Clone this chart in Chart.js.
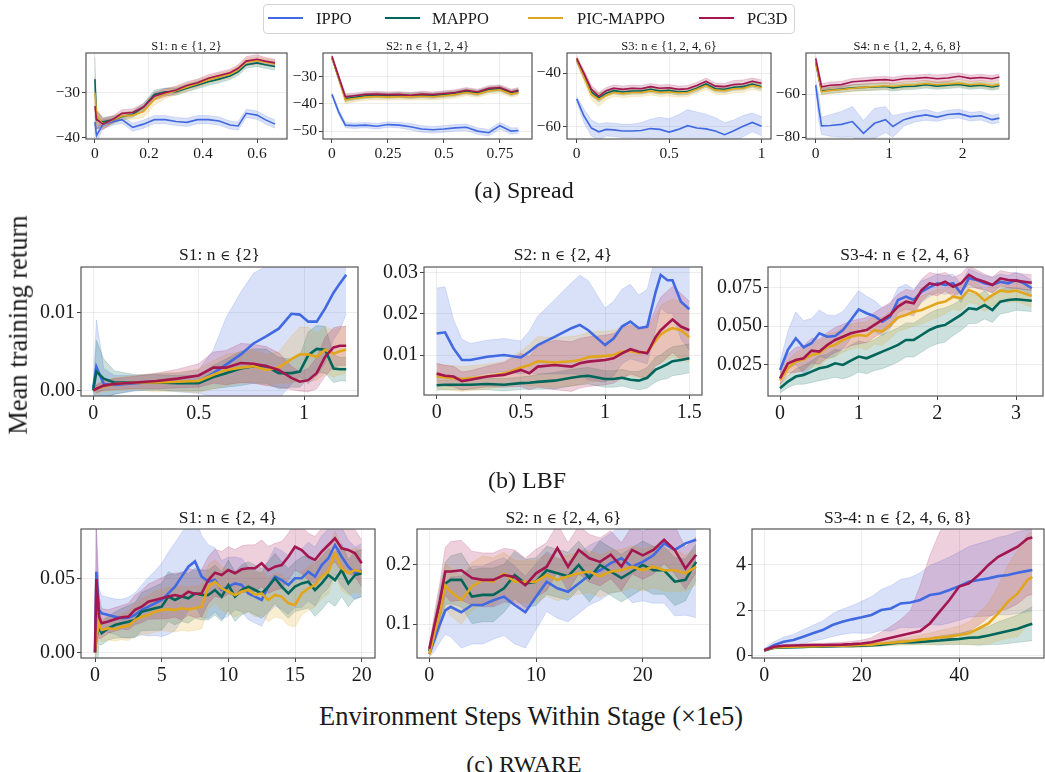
<!DOCTYPE html>
<html>
<head>
<meta charset="utf-8">
<script src="https://cdn.jsdelivr.net/npm/chart.js@4.4.1/dist/chart.umd.min.js"></script>
<style>
  html, body { margin: 0; padding: 0; background: #fff; }
  #fig { position: relative; width: 1045px; height: 772px; overflow: hidden;
         font-family: 'Liberation Serif', serif; color: #1a1a1a; }
  #fig canvas { position: absolute; }
  .txt { position: absolute; white-space: nowrap; line-height: 1; transform: translate(-50%, -50%); }
  .txt .el { font-family: 'DejaVu Serif', serif; font-size: 0.78em; }
  .legend { position: absolute; left: 263px; top: 4px; width: 532px; height: 30px;
            border: 1px solid #d4d4d4; border-radius: 4px; box-sizing: border-box; background: #fff; }
  .lline { position: absolute; height: 2px; }
  .ltxt { position: absolute; font-size: 16.5px; line-height: 1; transform: translateY(-50%); white-space: nowrap; }
</style>
</head>
<body>
<div id="fig"></div>
<script>
// ---- series names / colours
const methods = ['IPPO', 'MAPPO', 'PIC-MAPPO', 'PC3D'];
const colors = ['#4169e1', '#00665a', '#e2a61c', '#a3164f'];

// ===== (a) Spread =====
// S1
const sp1X = [0, 0.006, 0.03, 0.07, 0.1, 0.14, 0.18, 0.22, 0.26, 0.3, 0.34, 0.38, 0.42, 0.46, 0.5, 0.53, 0.56, 0.6, 0.63, 0.667];
const sp1IPPO = [-36.5, -39.5, -37, -36.4, -36, -37.7, -37, -36, -36, -36.4, -36.6, -36, -36, -36.3, -37.2, -37.4, -34.6, -35, -36, -37];
const sp1MAPPO = [-27, -36, -36.5, -36, -35.3, -34.8, -33.2, -30.4, -29.8, -29.8, -29, -28.3, -27.6, -27, -26.3, -25.4, -23.8, -23.4, -23.8, -24.2];
const sp1PIC = [-30, -35, -37, -36, -35.2, -35, -34.2, -31.5, -30.3, -29.6, -28.8, -28, -27.2, -26.5, -25.9, -24.9, -23.2, -22.9, -23.2, -23.6];
const sp1PC3D = [-33, -36, -37, -35.8, -34.6, -34.4, -33.2, -30.8, -30, -29.4, -28.4, -27.8, -26.8, -26.2, -25.6, -24.6, -23, -22.6, -23, -23.4];
const sp1IPPOsd = [1.5, 1.5, 1, 0.8, 0.8, 0.9, 0.9, 0.9, 0.9, 0.9, 0.9, 0.9, 0.9, 0.9, 0.9, 0.9, 0.9, 0.9, 0.9, 0.9];
const sp1MAPPOsd = [5, 2, 1, 0.8, 0.7, 0.7, 0.8, 1, 0.8, 0.8, 0.8, 0.8, 0.8, 0.8, 0.8, 0.8, 0.8, 0.8, 0.8, 0.8];
const sp1PICsd = [4, 2, 1, 0.8, 0.8, 0.9, 1.3, 1.3, 1, 0.9, 0.9, 0.8, 0.8, 0.8, 0.8, 0.8, 0.8, 0.8, 0.8, 0.8];
const sp1PC3Dsd = [4, 2, 1.2, 0.8, 0.8, 0.8, 0.8, 0.9, 0.9, 0.8, 0.8, 0.8, 0.8, 0.8, 0.8, 0.8, 1, 1, 0.8, 0.8];
const sp1XTicks = [0, 0.2, 0.4, 0.6], sp1XLabels = ['0', '0.2', '0.4', '0.6'];
const sp1YTicks = [-40, -30], sp1YLabels = ['−40', '−30'];

// S2
const sp2X = [0, 0.03, 0.06, 0.1, 0.15, 0.2, 0.25, 0.3, 0.35, 0.4, 0.45, 0.5, 0.55, 0.6, 0.65, 0.7, 0.75, 0.8, 0.833];
const sp2IPPO = [-36.5, -43, -47.8, -48, -47.8, -48.2, -47.6, -47.8, -48.4, -49.2, -49.5, -49.2, -48.8, -48.6, -50, -50.6, -48, -50, -49.8];
const sp2MAPPO = [-23, -30.5, -38, -37.6, -37, -36.8, -37, -36.8, -37, -36.8, -37, -36.6, -36.2, -35.4, -36, -34.8, -34.4, -36, -35.4];
const sp2PIC = [-23, -30.5, -38.5, -38, -37.5, -37.3, -37.5, -37.3, -37.4, -37.2, -37.4, -37, -36.6, -35.8, -36.4, -35.2, -34.8, -36.4, -35.8];
const sp2PC3D = [-22.5, -30, -37.4, -37, -36.5, -36.4, -36.6, -36.5, -36.8, -36.4, -36.6, -36.2, -35.8, -35, -35.6, -34.3, -34, -35.6, -35];
const sp2IPPOsd = [0.5, 1, 1, 1, 1, 1, 1, 1, 1.2, 1.2, 1.2, 1.2, 1.2, 1.2, 1.2, 1.2, 1.2, 1.2, 1];
const sp2MAPPOsd = [0.5, 1, 1.2, 1, 1, 1, 1, 1, 1, 1, 1, 1, 1, 1, 1, 1, 1, 1, 1];
const sp2PICsd = [0.5, 1, 1.5, 1.2, 1.2, 1.2, 1.2, 1.2, 1.2, 1.2, 1.2, 1.2, 1.2, 1.2, 1.2, 1.2, 1.2, 1.2, 1.2];
const sp2PC3Dsd = [0.5, 1, 1.2, 1, 1, 1, 1, 1, 1, 1, 1, 1, 1, 1, 1, 1, 1, 1, 1];
const sp2XTicks = [0, 0.25, 0.5, 0.75], sp2XLabels = ['0', '0.25', '0.5', '0.75'];
const sp2YTicks = [-50, -40, -30], sp2YLabels = ['−50', '−40', '−30'];

// S3
const sp3X = [0, 0.04, 0.08, 0.12, 0.16, 0.2, 0.25, 0.3, 0.35, 0.4, 0.45, 0.5, 0.55, 0.6, 0.65, 0.7, 0.75, 0.8, 0.85, 0.9, 0.95, 1.0];
const sp3IPPO = [-49.6, -56, -60.5, -61.9, -61, -61.2, -61.6, -61.6, -61.4, -60.7, -61, -62, -61, -59.6, -60.5, -60.8, -61.6, -63, -61.5, -59.8, -58.4, -59.8];
const sp3MAPPO = [-35, -41, -47, -49.2, -47.5, -46.5, -47, -46.6, -46.6, -46, -46.6, -46.4, -47, -46.8, -45.6, -44, -45.8, -46, -45.2, -45, -44, -45];
const sp3PIC = [-35, -41.5, -48, -49.8, -48.2, -47.2, -47.6, -47.2, -47.2, -46.6, -47.2, -47, -47.4, -47.2, -46, -44.6, -46.3, -46.5, -45.8, -45.6, -44.6, -45.3];
const sp3PC3D = [-34.4, -40, -46, -48.6, -46.5, -45.6, -46, -45.6, -45.8, -45, -45.6, -45.4, -46, -45.8, -44.6, -43, -44.8, -45, -44.2, -44, -43, -43.7];
const sp3IPPOsd = [1, 2.5, 3, 3, 2.5, 2.5, 2.5, 2.5, 3, 3.5, 4.5, 5, 5.5, 6, 6, 5.5, 5, 4.5, 4, 4, 3.5, 3.5];
const sp3MAPPOsd = [1, 1.2, 1.5, 1.5, 1.2, 1.2, 1.2, 1.2, 1.2, 1.2, 1.2, 1.2, 1.2, 1.2, 1.2, 1.2, 1.2, 1.2, 1.2, 1.2, 1.2, 1.2];
const sp3PICsd = [1, 1.5, 2, 2.5, 1.8, 1.5, 1.5, 1.5, 1.5, 1.5, 1.5, 1.5, 1.5, 1.5, 1.5, 1.5, 1.5, 1.5, 1.5, 1.5, 1.5, 1.5];
const sp3PC3Dsd = [1, 1.2, 1.5, 1.5, 1.2, 1.2, 1.2, 1.2, 1.2, 1.2, 1.2, 1.2, 1.2, 1.2, 1.2, 1.2, 1.2, 1.2, 1.5, 1.5, 1.2, 1.2];
const sp3XTicks = [0, 0.5, 1], sp3XLabels = ['0', '0.5', '1'];
const sp3YTicks = [-60, -40], sp3YLabels = ['−60', '−40'];

// S4
const sp4X = [0, 0.04, 0.08, 0.2, 0.35, 0.5, 0.65, 0.8, 0.95, 1.05, 1.2, 1.35, 1.5, 1.65, 1.8, 1.95, 2.1, 2.25, 2.4, 2.5];
const sp4IPPO = [-55.7, -66, -74.7, -74.5, -74, -72.7, -78.2, -73.5, -71.8, -75, -71.8, -70.4, -69.6, -70.6, -69.4, -69, -70.4, -70, -71.8, -71.1];
const sp4MAPPO = [-45, -52, -58.5, -58, -57.6, -57, -56.8, -56.6, -56.4, -57, -56.4, -56.2, -55.6, -56.2, -55.8, -55.4, -56.2, -55.8, -56.6, -56];
const sp4PIC = [-45, -52, -58.8, -58.2, -57.8, -57.2, -56.8, -56.4, -56, -56.4, -55.8, -55.6, -55, -55.6, -55.2, -54.8, -55.6, -55.2, -56, -55.4];
const sp4PC3D = [-43.3, -50, -56.5, -55.8, -55.5, -54.2, -53.8, -53.4, -53.2, -53.6, -52.8, -52.6, -52.2, -52.8, -52.4, -51.6, -52.6, -52.2, -52.8, -52];
const sp4IPPOsd = [2, 6, 4, 5, 6, 7, 6, 7, 6, 5, 3, 2.5, 2.5, 2, 2, 2, 2, 2, 2, 2];
const sp4MAPPOsd = [1, 1.5, 1.5, 1.5, 1.5, 1.5, 1.5, 1.5, 1.5, 1.5, 1.5, 1.5, 1.5, 1.5, 1.5, 1.5, 1.5, 1.5, 1.5, 1.5];
const sp4PICsd = [1, 1.5, 1.5, 1.5, 1.5, 1.5, 1.5, 1.5, 1.5, 1.5, 1.5, 1.5, 1.5, 1.5, 1.5, 1.5, 1.5, 1.5, 1.5, 1.5];
const sp4PC3Dsd = [1, 1.5, 1.5, 1.5, 1.5, 1.5, 1.5, 1.5, 1.5, 1.5, 1.5, 1.5, 1.5, 1.8, 1.8, 1.5, 1.5, 1.5, 1.5, 1.5];
const sp4XTicks = [0, 1, 2], sp4XLabels = ['0', '1', '2'];
const sp4YTicks = [-80, -60], sp4YLabels = ['−80', '−60'];

// ===== (b) LBF =====
// S1
const lbf1X = [0, 0.015, 0.05, 0.1, 0.2, 0.3, 0.4, 0.5, 0.57, 0.63, 0.7, 0.76, 0.82, 0.88, 0.94, 0.98, 1.02, 1.06, 1.1, 1.14, 1.17, 1.2];
const lbf1IPPO = [0.0003, 0.003, 0.0008, 0.0007, 0.0009, 0.0011, 0.001, 0.0011, 0.0022, 0.0033, 0.0046, 0.006, 0.0069, 0.0079, 0.0098, 0.0097, 0.0088, 0.0088, 0.0105, 0.0125, 0.0137, 0.0148];
const lbf1MAPPO = [0, 0.0024, 0.0015, 0.001, 0.001, 0.001, 0.0009, 0.0009, 0.0017, 0.0022, 0.0028, 0.0031, 0.0031, 0.0022, 0.0022, 0.0024, 0.0045, 0.0053, 0.0052, 0.0028, 0.0027, 0.0027];
const lbf1PIC = [0, 0.0002, 0.0005, 0.0008, 0.001, 0.001, 0.0011, 0.0012, 0.002, 0.0026, 0.0029, 0.0031, 0.0026, 0.0029, 0.004, 0.0046, 0.0046, 0.0043, 0.0052, 0.0047, 0.005, 0.0052];
const lbf1PC3D = [0, 0.0002, 0.0006, 0.0008, 0.001, 0.0012, 0.0015, 0.0019, 0.0029, 0.0029, 0.0035, 0.0034, 0.0031, 0.0026, 0.0016, 0.0011, 0.0013, 0.0022, 0.0043, 0.0055, 0.0057, 0.0057];
const lbf1IPPOsd = [0.0003, 0.006, 0.002, 0.0012, 0.001, 0.001, 0.0012, 0.0015, 0.003, 0.006, 0.008, 0.009, 0.009, 0.009, 0.009, 0.008, 0.008, 0.007, 0.007, 0.006, 0.006, 0.005];
const lbf1MAPPOsd = [0, 0.004, 0.0025, 0.0015, 0.001, 0.001, 0.001, 0.001, 0.0015, 0.0018, 0.0022, 0.0022, 0.0022, 0.002, 0.0018, 0.002, 0.003, 0.003, 0.003, 0.0018, 0.0015, 0.0015];
const lbf1PICsd = [0, 0.0006, 0.0007, 0.0008, 0.0009, 0.0012, 0.0012, 0.0015, 0.0018, 0.002, 0.002, 0.002, 0.002, 0.002, 0.003, 0.0035, 0.0035, 0.003, 0.003, 0.003, 0.003, 0.003];
const lbf1PC3Dsd = [0, 0.0005, 0.0006, 0.0007, 0.0008, 0.001, 0.0012, 0.0015, 0.002, 0.0022, 0.0025, 0.0025, 0.0025, 0.0022, 0.0015, 0.0012, 0.0015, 0.002, 0.0025, 0.0025, 0.0025, 0.0025];
const lbf1XTicks = [0, 0.5, 1], lbf1XLabels = ['0', '0.5', '1'];
const lbf1YTicks = [0, 0.01], lbf1YLabels = ['0.00', '0.01'];

// S2
const lbf2X = [0, 0.05, 0.1, 0.15, 0.2, 0.3, 0.4, 0.5, 0.55, 0.6, 0.7, 0.8, 0.85, 0.9, 1.0, 1.05, 1.1, 1.15, 1.2, 1.25, 1.3, 1.33, 1.37, 1.4, 1.45, 1.5];
const lbf2IPPO = [0.0152, 0.0155, 0.0116, 0.0088, 0.0088, 0.0096, 0.01, 0.0094, 0.0108, 0.0124, 0.0144, 0.0165, 0.0173, 0.016, 0.0124, 0.014, 0.0169, 0.0181, 0.0165, 0.0169, 0.0253, 0.0294, 0.0281, 0.0281, 0.0229, 0.0211];
const lbf2MAPPO = [0.0027, 0.0028, 0.0028, 0.0028, 0.0028, 0.003, 0.0028, 0.0032, 0.0033, 0.0035, 0.0038, 0.0045, 0.0048, 0.005, 0.0042, 0.0042, 0.0045, 0.004, 0.0038, 0.0045, 0.0065, 0.007, 0.0078, 0.0085, 0.0088, 0.0092];
const lbf2PIC = [0.0049, 0.0046, 0.0044, 0.0042, 0.0044, 0.0048, 0.0055, 0.007, 0.0075, 0.0085, 0.0082, 0.0085, 0.0088, 0.0095, 0.0098, 0.01, 0.0108, 0.011, 0.0105, 0.0107, 0.0135, 0.015, 0.016, 0.0165, 0.016, 0.0143];
const lbf2PC3D = [0.0055, 0.005, 0.0048, 0.0037, 0.004, 0.0048, 0.0052, 0.0064, 0.0056, 0.0072, 0.0076, 0.0072, 0.008, 0.0084, 0.0088, 0.0092, 0.0104, 0.0114, 0.0108, 0.0104, 0.0144, 0.016, 0.0175, 0.0186, 0.0169, 0.016];
const lbf2IPPOsd = [0.011, 0.011, 0.007, 0.005, 0.004, 0.004, 0.004, 0.004, 0.005, 0.007, 0.009, 0.011, 0.012, 0.012, 0.009, 0.009, 0.009, 0.009, 0.008, 0.009, 0.009, 0.008, 0.008, 0.008, 0.009, 0.01];
const lbf2MAPPOsd = [0.0012, 0.0012, 0.0012, 0.0012, 0.0012, 0.0014, 0.0015, 0.0015, 0.0016, 0.0018, 0.002, 0.002, 0.002, 0.002, 0.002, 0.002, 0.002, 0.002, 0.0022, 0.0025, 0.003, 0.003, 0.0035, 0.0035, 0.0035, 0.0035];
const lbf2PICsd = [0.003, 0.003, 0.003, 0.003, 0.003, 0.003, 0.003, 0.004, 0.005, 0.006, 0.006, 0.006, 0.006, 0.006, 0.006, 0.006, 0.006, 0.006, 0.006, 0.006, 0.006, 0.007, 0.007, 0.007, 0.007, 0.006];
const lbf2PC3Dsd = [0.0025, 0.0025, 0.0025, 0.0022, 0.0022, 0.0025, 0.003, 0.004, 0.004, 0.005, 0.006, 0.006, 0.006, 0.006, 0.006, 0.006, 0.006, 0.006, 0.006, 0.006, 0.007, 0.008, 0.008, 0.008, 0.008, 0.007];
const lbf2XTicks = [0, 0.5, 1, 1.5], lbf2XLabels = ['0', '0.5', '1', '1.5'];
const lbf2YTicks = [0.01, 0.02, 0.03], lbf2YLabels = ['0.01', '0.02', '0.03'];

// S3-4
const lbf3X = [0, 0.1, 0.2, 0.3, 0.4, 0.5, 0.6, 0.7, 0.8, 0.9,
  1.0, 1.1, 1.2, 1.3, 1.4, 1.5, 1.6, 1.7, 1.8, 1.9,
  2.0, 2.1, 2.2, 2.3, 2.4, 2.5, 2.6, 2.7, 2.8, 2.9,
  3.0, 3.1, 3.2];
const lbf3IPPO = [0.0218, 0.0347, 0.0422, 0.0364, 0.039, 0.0454, 0.0432, 0.0437, 0.0475, 0.054,
  0.0608, 0.0583, 0.0565, 0.0529, 0.0561, 0.0668, 0.069, 0.0668, 0.0722, 0.075,
  0.0776, 0.0765, 0.0776, 0.0711, 0.0808, 0.0797, 0.0776, 0.0765, 0.0786, 0.0776,
  0.0797, 0.0776, 0.0744];
const lbf3MAPPO = [0.01, 0.0143, 0.0175, 0.0186, 0.0207, 0.0229, 0.0239, 0.0261, 0.025, 0.0278,
  0.0304, 0.0293, 0.0314, 0.0336, 0.0357, 0.0379, 0.0411, 0.0411, 0.0443, 0.0475,
  0.0497, 0.0508, 0.054, 0.0572, 0.0615, 0.0608, 0.0636, 0.0604, 0.0658, 0.0668,
  0.0673, 0.0668, 0.0664];
const lbf3PIC = [0.0153, 0.0229, 0.0271, 0.0286, 0.0314, 0.0325, 0.0368, 0.0379, 0.0411, 0.0432,
  0.0443, 0.0437, 0.0475, 0.0465, 0.0508, 0.0557, 0.0572, 0.0593, 0.0604, 0.0626,
  0.0647, 0.0658, 0.069, 0.0679, 0.0733, 0.0711, 0.0664, 0.07, 0.0729, 0.0722,
  0.0729, 0.0711, 0.0694];
const lbf3PC3D = [0.0164, 0.026, 0.0282, 0.0293, 0.0342, 0.0336, 0.0379, 0.0411, 0.0432, 0.0454,
  0.0465, 0.0475, 0.0508, 0.054, 0.0572, 0.0626, 0.0658, 0.0647, 0.0733, 0.0776,
  0.0765, 0.0786, 0.0754, 0.0776, 0.083, 0.0802, 0.0786, 0.0765, 0.0808, 0.0797,
  0.0793, 0.0786, 0.078];
const lbf3IPPOsd = [0.005, 0.012, 0.017, 0.017, 0.016, 0.015, 0.014, 0.013, 0.012, 0.012,
  0.012, 0.011, 0.01, 0.009, 0.008, 0.008, 0.008, 0.007, 0.007, 0.006,
  0.006, 0.006, 0.006, 0.006, 0.006, 0.005, 0.005, 0.005, 0.005, 0.005,
  0.005, 0.005, 0.005];
const lbf3MAPPOsd = [0.003, 0.004, 0.005, 0.006, 0.007, 0.008, 0.008, 0.009, 0.009, 0.01,
  0.01, 0.01, 0.01, 0.011, 0.011, 0.011, 0.011, 0.011, 0.011, 0.011,
  0.011, 0.011, 0.01, 0.01, 0.01, 0.009, 0.009, 0.008, 0.008, 0.008,
  0.007, 0.007, 0.007];
const lbf3PICsd = [0.004, 0.005, 0.006, 0.007, 0.008, 0.008, 0.008, 0.008, 0.008, 0.008,
  0.008, 0.009, 0.009, 0.009, 0.009, 0.009, 0.009, 0.009, 0.009, 0.009,
  0.009, 0.008, 0.008, 0.008, 0.008, 0.007, 0.007, 0.007, 0.007, 0.007,
  0.007, 0.007, 0.007];
const lbf3PC3Dsd = [0.004, 0.006, 0.008, 0.008, 0.008, 0.008, 0.008, 0.008, 0.008, 0.008,
  0.008, 0.008, 0.008, 0.008, 0.008, 0.008, 0.008, 0.008, 0.007, 0.007,
  0.007, 0.006, 0.006, 0.006, 0.006, 0.006, 0.005, 0.005, 0.005, 0.005,
  0.005, 0.005, 0.005];
const lbf3XTicks = [0, 1, 2, 3], lbf3XLabels = ['0', '1', '2', '3'];
const lbf3YTicks = [0.025, 0.05, 0.075], lbf3YLabels = ['0.025', '0.050', '0.075'];

// ===== (c) RWARE =====
// S1
const rw1X = [0, 0.1, 0.3, 0.5, 1, 1.5, 2, 2.5, 3, 3.5,
  4, 4.5, 5, 5.5, 6, 6.5, 7, 7.5, 8, 8.5,
  9, 9.5, 10, 10.5, 11, 11.5, 12, 12.5, 13, 13.5,
  14, 14.5, 15, 15.5, 16, 16.5, 17, 17.5, 18, 18.5,
  19, 19.5, 20];
const rw1IPPO = [0, 0.055, 0.0289, 0.0266, 0.0255, 0.0243, 0.0232, 0.0235, 0.0255, 0.0289,
  0.0311, 0.0334, 0.0357, 0.0402, 0.0448, 0.0516, 0.0584, 0.062, 0.0516, 0.0482,
  0.0493, 0.0425, 0.0448, 0.047, 0.0459, 0.0402, 0.038, 0.0357, 0.0448, 0.0516,
  0.0493, 0.0459, 0.0505, 0.0505, 0.055, 0.0516, 0.0595, 0.0641, 0.0732, 0.0652,
  0.0584, 0.0539, 0.0561];
const rw1MAPPO = [0, 0.01, 0.0175, 0.013, 0.0164, 0.0186, 0.0198, 0.0209, 0.022, 0.0277,
  0.0289, 0.03, 0.0311, 0.038, 0.0357, 0.038, 0.0368, 0.0402, 0.0391, 0.0391,
  0.0425, 0.038, 0.0459, 0.038, 0.0425, 0.0448, 0.0425, 0.0402, 0.0448, 0.0505,
  0.0448, 0.0402, 0.0448, 0.047, 0.0482, 0.0425, 0.047, 0.0527, 0.0493, 0.0561,
  0.047, 0.0527, 0.0539];
const rw1PIC = [0, 0.01, 0.0198, 0.0152, 0.0164, 0.0157, 0.0175, 0.018, 0.022, 0.0243,
  0.0255, 0.0277, 0.0289, 0.0293, 0.0289, 0.03, 0.0293, 0.03, 0.0311, 0.0448,
  0.0482, 0.0436, 0.0414, 0.0391, 0.0414, 0.0425, 0.0391, 0.0402, 0.0357, 0.0391,
  0.038, 0.0334, 0.0323, 0.0402, 0.0436, 0.0459, 0.0516, 0.055, 0.0675, 0.0573,
  0.0539, 0.0561, 0.055];
const rw1PC3D = [0, 0.05, 0.0243, 0.0198, 0.021, 0.0225, 0.0239, 0.0243, 0.0289, 0.0311,
  0.0345, 0.0357, 0.0368, 0.038, 0.0391, 0.038, 0.0414, 0.0398, 0.0402, 0.0493,
  0.0543, 0.0527, 0.0561, 0.0539, 0.0566, 0.0573, 0.0573, 0.0607, 0.0561, 0.0584,
  0.0595, 0.0652, 0.072, 0.0698, 0.0652, 0.063, 0.0686, 0.0732, 0.0777, 0.0709,
  0.0698, 0.0675, 0.0607];
const rw1IPPOsd = [0, 0.03, 0.015, 0.012, 0.012, 0.012, 0.013, 0.014, 0.015, 0.017,
  0.02, 0.022, 0.025, 0.028, 0.03, 0.03, 0.03, 0.03, 0.028, 0.025,
  0.022, 0.02, 0.02, 0.018, 0.018, 0.018, 0.018, 0.018, 0.018, 0.02,
  0.02, 0.02, 0.02, 0.02, 0.02, 0.02, 0.02, 0.02, 0.02, 0.02,
  0.018, 0.018, 0.018];
const rw1MAPPOsd = [0, 0.03, 0.012, 0.008, 0.008, 0.009, 0.01, 0.011, 0.012, 0.013,
  0.014, 0.015, 0.016, 0.017, 0.017, 0.017, 0.017, 0.017, 0.017, 0.017,
  0.017, 0.017, 0.017, 0.017, 0.017, 0.017, 0.017, 0.017, 0.017, 0.017,
  0.017, 0.017, 0.017, 0.018, 0.018, 0.018, 0.018, 0.018, 0.018, 0.018,
  0.016, 0.016, 0.016];
const rw1PICsd = [0, 0.012, 0.01, 0.008, 0.008, 0.008, 0.009, 0.01, 0.011, 0.012,
  0.013, 0.014, 0.014, 0.015, 0.015, 0.015, 0.015, 0.015, 0.015, 0.015,
  0.015, 0.015, 0.015, 0.015, 0.015, 0.015, 0.015, 0.015, 0.015, 0.015,
  0.015, 0.015, 0.015, 0.015, 0.015, 0.015, 0.015, 0.015, 0.015, 0.015,
  0.015, 0.015, 0.015];
const rw1PC3Dsd = [0, 0.035, 0.015, 0.01, 0.008, 0.008, 0.008, 0.009, 0.01, 0.011,
  0.012, 0.013, 0.014, 0.015, 0.015, 0.016, 0.016, 0.016, 0.016, 0.016,
  0.016, 0.016, 0.016, 0.016, 0.016, 0.016, 0.016, 0.016, 0.016, 0.016,
  0.016, 0.016, 0.016, 0.016, 0.016, 0.016, 0.016, 0.016, 0.016, 0.016,
  0.016, 0.016, 0.016];
const rw1XTicks = [0, 5, 10, 15, 20], rw1XLabels = ['0', '5', '10', '15', '20'];
const rw1YTicks = [0, 0.05], rw1YLabels = ['0.00', '0.05'];

// S2
const rw2X = [0, 0.5, 1, 1.5, 2, 3, 4, 5, 6, 7, 8, 9, 10, 11, 12, 13, 14, 15, 16, 17, 18, 19, 20, 21, 22, 23, 24, 25];
const rw2IPPO = [0.05, 0.075, 0.1, 0.123, 0.129, 0.12, 0.132, 0.132, 0.14, 0.146, 0.132, 0.12, 0.146, 0.171, 0.16, 0.154, 0.168, 0.182, 0.19, 0.202, 0.21, 0.196, 0.204, 0.215, 0.235, 0.224, 0.235, 0.241];
const rw2MAPPO = [0.055, 0.09, 0.13, 0.168, 0.174, 0.174, 0.146, 0.149, 0.149, 0.16, 0.182, 0.168, 0.171, 0.19, 0.185, 0.18, 0.199, 0.177, 0.199, 0.188, 0.177, 0.188, 0.199, 0.19, 0.19, 0.171, 0.174, 0.204];
const rw2PIC = [0.05, 0.085, 0.12, 0.165, 0.154, 0.14, 0.163, 0.174, 0.171, 0.185, 0.171, 0.171, 0.171, 0.182, 0.174, 0.18, 0.185, 0.188, 0.18, 0.188, 0.19, 0.196, 0.19, 0.196, 0.19, 0.19, 0.185, 0.196];
const rw2PC3D = [0.059, 0.1, 0.14, 0.188, 0.188, 0.19, 0.177, 0.174, 0.174, 0.182, 0.179, 0.165, 0.185, 0.196, 0.227, 0.196, 0.224, 0.21, 0.204, 0.216, 0.196, 0.224, 0.215, 0.224, 0.241, 0.224, 0.193, 0.216];
const rw2IPPOsd = [0.005, 0.02, 0.03, 0.04, 0.05, 0.06, 0.065, 0.065, 0.065, 0.065, 0.065, 0.06, 0.055, 0.05, 0.05, 0.05, 0.05, 0.05, 0.05, 0.05, 0.055, 0.06, 0.065, 0.08, 0.1, 0.11, 0.12, 0.13];
const rw2MAPPOsd = [0.005, 0.02, 0.03, 0.035, 0.04, 0.045, 0.045, 0.045, 0.045, 0.04, 0.04, 0.04, 0.04, 0.04, 0.04, 0.04, 0.04, 0.04, 0.04, 0.04, 0.04, 0.04, 0.04, 0.04, 0.04, 0.04, 0.035, 0.03];
const rw2PICsd = [0.005, 0.02, 0.03, 0.035, 0.04, 0.04, 0.04, 0.04, 0.04, 0.035, 0.035, 0.035, 0.035, 0.035, 0.035, 0.035, 0.035, 0.035, 0.035, 0.035, 0.035, 0.035, 0.035, 0.035, 0.035, 0.035, 0.03, 0.03];
const rw2PC3Dsd = [0.005, 0.02, 0.03, 0.04, 0.05, 0.05, 0.045, 0.045, 0.045, 0.045, 0.045, 0.045, 0.04, 0.04, 0.04, 0.04, 0.04, 0.04, 0.04, 0.04, 0.04, 0.04, 0.04, 0.04, 0.04, 0.04, 0.035, 0.03];
const rw2XTicks = [0, 10, 20], rw2XLabels = ['0', '10', '20'];
const rw2YTicks = [0.1, 0.2], rw2YLabels = ['0.1', '0.2'];

// S3-4
const rw3X = [0, 2, 4, 6, 8, 10, 12, 14, 16, 18, 20, 22, 24, 26, 28, 30, 32, 34, 36, 38, 40, 42, 44, 46, 48, 50, 52, 54, 55];
const rw3IPPO = [0.25, 0.48, 0.63, 0.7, 0.85, 1.0, 1.14, 1.36, 1.5, 1.61, 1.7, 1.8, 2.02, 2.09, 2.31, 2.35, 2.46, 2.68, 2.75, 2.9, 3.07, 3.26, 3.34, 3.41, 3.51, 3.56, 3.66, 3.74, 3.78];
const rw3MAPPO = [0.25, 0.36, 0.38, 0.39, 0.4, 0.42, 0.42, 0.43, 0.44, 0.44, 0.45, 0.47, 0.5, 0.55, 0.6, 0.6, 0.62, 0.65, 0.68, 0.72, 0.75, 0.8, 0.82, 0.9, 1.0, 1.1, 1.2, 1.35, 1.42];
const rw3PIC = [0.25, 0.38, 0.4, 0.41, 0.42, 0.43, 0.44, 0.45, 0.45, 0.46, 0.48, 0.5, 0.55, 0.58, 0.62, 0.66, 0.72, 0.76, 0.82, 0.86, 0.92, 1.0, 1.21, 1.43, 1.87, 2.39, 2.75, 3.34, 3.48];
const rw3PC3D = [0.25, 0.41, 0.45, 0.46, 0.47, 0.48, 0.48, 0.49, 0.5, 0.52, 0.55, 0.6, 0.7, 0.8, 0.9, 1.0, 1.1, 1.43, 1.95, 2.46, 3.05, 3.19, 3.56, 4.0, 4.36, 4.58, 4.8, 5.15, 5.21];
const rw3IPPOsd = [0.08, 0.15, 0.2, 0.25, 0.3, 0.35, 0.4, 0.5, 0.55, 0.6, 0.7, 0.8, 0.9, 1.0, 1.05, 1.1, 1.2, 1.3, 1.4, 1.45, 1.5, 1.55, 1.6, 1.65, 1.7, 1.75, 1.8, 1.8, 1.8];
const rw3MAPPOsd = [0.04, 0.05, 0.05, 0.05, 0.05, 0.05, 0.05, 0.05, 0.05, 0.05, 0.06, 0.06, 0.07, 0.08, 0.1, 0.1, 0.12, 0.15, 0.2, 0.22, 0.25, 0.3, 0.35, 0.4, 0.5, 0.55, 0.6, 0.7, 0.75];
const rw3PICsd = [0.05, 0.05, 0.05, 0.05, 0.05, 0.05, 0.06, 0.06, 0.06, 0.07, 0.08, 0.08, 0.1, 0.12, 0.15, 0.18, 0.2, 0.25, 0.3, 0.35, 0.4, 0.5, 0.7, 0.9, 1.2, 1.6, 1.9, 2.0, 2.0];
// PC3D spread is lopsided here: upper and lower half-widths read separately
const rw3PC3Dsd = [0.05, 0.06, 0.06, 0.06, 0.07, 0.08, 0.08, 0.09, 0.1, 0.12, 0.15, 0.2, 0.35, 0.5, 0.7, 1.0, 2.0, 3.0, 3.5, 3.5, 3.0, 2.8, 2.6, 2.4, 2.2, 2.0, 1.8, 1.6, 1.5];
const rw3PC3DsdLow = [0.05, 0.06, 0.06, 0.06, 0.07, 0.08, 0.08, 0.09, 0.1, 0.12, 0.12, 0.15, 0.2, 0.25, 0.3, 0.4, 0.5, 0.8, 1.3, 1.7, 2.1, 2.1, 2.2, 2.3, 2.4, 2.5, 2.5, 2.5, 2.5];
const rw3XTicks = [0, 20, 40], rw3XLabels = ['0', '20', '40'];
const rw3YTicks = [0, 2, 4], rw3YLabels = ['0', '2', '4'];

// ---- layout (plot-area rectangles in page pixels, axis ranges, styles)
const small = { pad: { l: 40, t: 14, r: 16, b: 26 }, fs: 15.5, lw: 1.6, tfs: 12.5 };
const big = { pad: { l: 70, t: 18, r: 22, b: 32 }, fs: 20, lw: 2.6, tfs: 17.5 };

const panels = [
  { x: sp1X, ys: [sp1IPPO, sp1MAPPO, sp1PIC, sp1PC3D], sd: [sp1IPPOsd, sp1MAPPOsd, sp1PICsd, sp1PC3Dsd],
    xt: sp1XTicks, xl: sp1XLabels, yt: sp1YTicks, yl: sp1YLabels,
    xr: [-0.033, 0.711], yr: [-40.3, -21.2], rect: [86, 53, 287, 139], title: 'S1: n ∈ {1, 2}', ty: 46, st: small },
  { x: sp2X, ys: [sp2IPPO, sp2MAPPO, sp2PIC, sp2PC3D], sd: [sp2IPPOsd, sp2MAPPOsd, sp2PICsd, sp2PC3Dsd],
    xt: sp2XTicks, xl: sp2XLabels, yt: sp2YTicks, yl: sp2YLabels,
    xr: [-0.04, 0.893], yr: [-52.9, -21.3], rect: [323, 53, 532, 139], title: 'S2: n ∈ {1, 2, 4}', ty: 46, st: small },
  { x: sp3X, ys: [sp3IPPO, sp3MAPPO, sp3PIC, sp3PC3D], sd: [sp3IPPOsd, sp3MAPPOsd, sp3PICsd, sp3PC3Dsd],
    xt: sp3XTicks, xl: sp3XLabels, yt: sp3YTicks, yl: sp3YLabels,
    xr: [-0.052, 1.051], yr: [-64.6, -32.4], rect: [567, 53, 771, 139], title: 'S3: n ∈ {1, 2, 4, 6}', ty: 46, st: small },
  { x: sp4X, ys: [sp4IPPO, sp4MAPPO, sp4PIC, sp4PC3D], sd: [sp4IPPOsd, sp4MAPPOsd, sp4PICsd, sp4PC3Dsd],
    xt: sp4XTicks, xl: sp4XLabels, yt: sp4YTicks, yl: sp4YLabels,
    xr: [-0.132, 2.63], yr: [-80.8, -40.8], rect: [806, 53, 1009, 139], title: 'S4: n ∈ {1, 2, 4, 6, 8}', ty: 46, st: small },
  { x: lbf1X, ys: [lbf1IPPO, lbf1MAPPO, lbf1PIC, lbf1PC3D], sd: [lbf1IPPOsd, lbf1MAPPOsd, lbf1PICsd, lbf1PC3Dsd],
    xt: lbf1XTicks, xl: lbf1XLabels, yt: lbf1YTicks, yl: lbf1YLabels,
    xr: [-0.058, 1.256], yr: [-0.00073, 0.0158], rect: [81, 267, 358, 396], title: 'S1: n ∈ {2}', ty: 255, st: big },
  { x: lbf2X, ys: [lbf2IPPO, lbf2MAPPO, lbf2PIC, lbf2PC3D], sd: [lbf2IPPOsd, lbf2MAPPOsd, lbf2PICsd, lbf2PC3Dsd],
    xt: lbf2XTicks, xl: lbf2XLabels, yt: lbf2YTicks, yl: lbf2YLabels,
    xr: [-0.075, 1.575], yr: [0.00033, 0.0313], rect: [424, 267, 702, 395], title: 'S2: n ∈ {2, 4}', ty: 255, st: big },
  { x: lbf3X, ys: [lbf3IPPO, lbf3MAPPO, lbf3PIC, lbf3PC3D], sd: [lbf3IPPOsd, lbf3MAPPOsd, lbf3PICsd, lbf3PC3Dsd],
    xt: lbf3XTicks, xl: lbf3XLabels, yt: lbf3YTicks, yl: lbf3YLabels,
    xr: [-0.153, 3.343], yr: [0.005, 0.0881], rect: [768, 267, 1043, 396], title: 'S3-4: n ∈ {2, 4, 6}', ty: 255, st: big },
  { x: rw1X, ys: [rw1IPPO, rw1MAPPO, rw1PIC, rw1PC3D], sd: [rw1IPPOsd, rw1MAPPOsd, rw1PICsd, rw1PC3Dsd],
    xt: rw1XTicks, xl: rw1XLabels, yt: rw1YTicks, yl: rw1YLabels,
    xr: [-1.05, 21], yr: [-0.0039, 0.0841], rect: [81, 529, 375, 658], title: 'S1: n ∈ {2, 4}', ty: 518, st: big },
  { x: rw2X, ys: [rw2IPPO, rw2MAPPO, rw2PIC, rw2PC3D], sd: [rw2IPPOsd, rw2MAPPOsd, rw2PICsd, rw2PC3Dsd],
    xt: rw2XTicks, xl: rw2XLabels, yt: rw2YTicks, yl: rw2YLabels,
    xr: [-1.15, 26.3], yr: [0.0435, 0.259], rect: [417, 529, 710, 658], title: 'S2: n ∈ {2, 4, 6}', ty: 518, st: big },
  { x: rw3X, ys: [rw3IPPO, rw3MAPPO, rw3PIC, rw3PC3D], sd: [rw3IPPOsd, rw3MAPPOsd, rw3PICsd, rw3PC3Dsd],
    sdLow: [null, null, null, rw3PC3DsdLow],
    xt: rw3XTicks, xl: rw3XLabels, yt: rw3YTicks, yl: rw3YLabels,
    xr: [-2.5, 57.4], yr: [-0.088, 5.58], rect: [752, 529, 1044, 658], title: 'S3-4: n ∈ {2, 4, 6, 8}', ty: 518, st: big }
];

const fig = document.getElementById('fig');
Chart.defaults.font.family = "'Liberation Serif', serif";
Chart.defaults.color = '#1a1a1a';

function rgba(hex, a) {
  const n = parseInt(hex.slice(1), 16);
  return 'rgba(' + (n >> 16) + ',' + ((n >> 8) & 255) + ',' + (n & 255) + ',' + a + ')';
}

// full box around the plot area, like the matplotlib spines
const framePlugin = {
  id: 'frame',
  afterDraw(chart) {
    const { ctx, chartArea: a } = chart;
    ctx.save();
    ctx.strokeStyle = '#555';
    ctx.lineWidth = 1.2;
    ctx.strokeRect(a.left, a.top, a.right - a.left, a.bottom - a.top);
    ctx.restore();
  }
};

function addText(t, x, y, size, extra) {
  const d = document.createElement('div');
  d.className = 'txt';
  // the element-of sign is missing from Liberation Serif, so give it a smaller fallback
  t.split('∈').forEach((part, i) => {
    if (i > 0) {
      const s = document.createElement('span');
      s.className = 'el';
      s.textContent = '∈';
      d.appendChild(s);
    }
    d.appendChild(document.createTextNode(part));
  });
  d.style.left = x + 'px';
  d.style.top = y + 'px';
  d.style.fontSize = size + 'px';
  if (extra) d.style.transform = extra;
  fig.appendChild(d);
}

panels.forEach(p => {
  const st = p.st, pad = st.pad;
  const [L, T, R, B] = p.rect;
  const c = document.createElement('canvas');
  c.width = (R - L) + pad.l + pad.r;
  c.height = (B - T) + pad.t + pad.b;
  c.style.left = (L - pad.l) + 'px';
  c.style.top = (T - pad.t) + 'px';
  fig.appendChild(c);

  const datasets = [];
  // shaded bands first
  p.ys.forEach((ys, k) => {
    const up = p.sd[k];
    const lo = (p.sdLow && p.sdLow[k]) || up;
    datasets.push({
      data: p.x.map((x, i) => ({ x: x, y: ys[i] + up[i] })),
      borderColor: rgba(colors[k], 0.22), borderWidth: 0.8, pointRadius: 0, fill: false, order: 14 - k
    });
    datasets.push({
      data: p.x.map((x, i) => ({ x: x, y: ys[i] - lo[i] })),
      borderColor: rgba(colors[k], 0.22), borderWidth: 0.8, pointRadius: 0,
      backgroundColor: rgba(colors[k], 0.2), fill: '-1', order: 14 - k
    });
  });
  // mean lines on top, PC3D last
  p.ys.forEach((ys, k) => {
    datasets.push({
      label: methods[k],
      data: p.x.map((x, i) => ({ x: x, y: ys[i] })),
      borderColor: colors[k], borderWidth: st.lw, pointRadius: 0, fill: false, order: 4 - k
    });
  });

  const gridColor = 'rgba(0,0,0,0.07)';
  new Chart(c, {
    type: 'line',
    data: { datasets: datasets },
    options: {
      responsive: false, animation: false, devicePixelRatio: 1, events: [],
      layout: { padding: { left: 0, top: pad.t, right: pad.r, bottom: 0 } },
      plugins: { legend: { display: false }, tooltip: { enabled: false } },
      scales: {
        x: {
          type: 'linear', min: p.xr[0], max: p.xr[1], bounds: 'data',
          afterBuildTicks: a => { a.ticks = p.xt.map(v => ({ value: v })); },
          afterFit: a => { a.height = pad.b; },
          ticks: { callback: (v, i) => p.xl[i], font: { size: st.fs }, color: '#1a1a1a', padding: 2, maxRotation: 0, autoSkip: false },
          grid: { color: gridColor, tickColor: '#444', tickLength: 4 },
          border: { display: false }
        },
        y: {
          type: 'linear', min: p.yr[0], max: p.yr[1], bounds: 'data',
          afterBuildTicks: a => { a.ticks = p.yt.map(v => ({ value: v })); },
          afterFit: a => { a.width = pad.l; },
          ticks: { callback: (v, i) => p.yl[i], font: { size: st.fs }, color: '#1a1a1a', padding: 2, autoSkip: false },
          grid: { color: gridColor, tickColor: '#444', tickLength: 4 },
          border: { display: false }
        }
      }
    },
    plugins: [framePlugin]
  });

  addText(p.title, (L + R) / 2, p.ty, st.tfs);
});

// captions and axis labels
addText('(a) Spread', 524, 190, 24);
addText('(b) LBF', 527, 480, 24);
addText('Environment Steps Within Stage (×1e5)', 531, 716, 26.5);
addText('(c) RWARE', 524, 764, 24);
addText('Mean training return', 18, 325, 26.5, 'translate(-50%, -50%) rotate(-90deg)');

// shared legend
const lg = document.createElement('div');
lg.className = 'legend';
fig.appendChild(lg);
const legendLineX = [268, 385, 528, 699];
const legendTextX = [316, 432, 577, 747];
methods.forEach((m, k) => {
  const ln = document.createElement('div');
  ln.className = 'lline';
  ln.style.left = legendLineX[k] + 'px';
  ln.style.top = '17px';
  ln.style.width = '35px';
  ln.style.background = colors[k];
  fig.appendChild(ln);
  const tx = document.createElement('div');
  tx.className = 'ltxt';
  tx.textContent = m;
  tx.style.left = legendTextX[k] + 'px';
  tx.style.top = '19px';
  fig.appendChild(tx);
});
</script>
</body>
</html>
